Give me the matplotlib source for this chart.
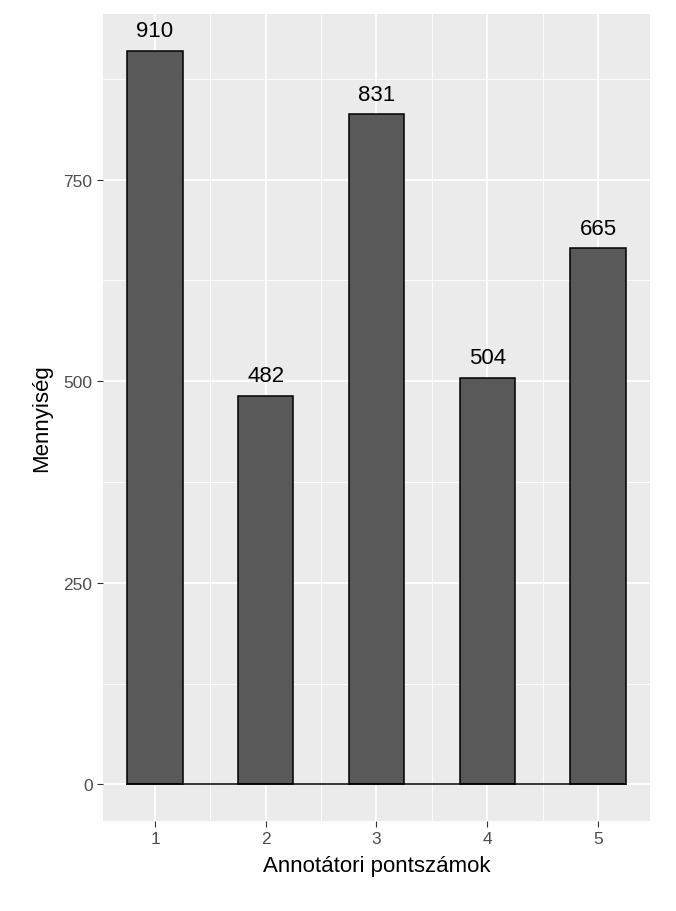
import matplotlib
matplotlib.use("Agg")
import matplotlib.pyplot as plt
import numpy as np

categories = ["1", "2", "3", "4", "5"]
values = [910, 482, 831, 504, 665]
yticks = [0, 250, 500, 750]

plt.rcParams['font.family'] = ['Liberation Sans', 'DejaVu Sans']
fig = plt.figure(figsize=(6.76, 9.12), dpi=100)
ax = fig.add_axes([103/676, 90/912, 547/676, 807/912])
ax.set_facecolor('#EBEBEB')
x = np.arange(1, len(categories) + 1)
ax.bar(x, values, width=0.5, color='#595959', edgecolor='black', linewidth=1.1, zorder=3)
ax.plot([x[0] - 0.25, x[-1] + 0.25], [0, 0], color='black', linewidth=1.1, zorder=4)
for xi, v in zip(x, values):
    ax.text(xi, v + 12, str(v), ha='center', va='bottom', fontsize=16, color='black', zorder=5)
ax.set_xlim(0.53, 5.47)
ax.set_ylim(-45.5, 955.5)
ax.set_xticks(x)
ax.set_xticklabels(categories)
ax.set_yticks(yticks)
ax.set_xticks(x[:-1] + 0.5, minor=True)
ax.set_yticks([125, 375, 625, 875], minor=True)
ax.grid(which='major', color='white', linewidth=1.3, zorder=0)
ax.grid(which='minor', color='white', linewidth=0.6, zorder=0)
ax.set_axisbelow(True)
for s in ax.spines.values():
    s.set_visible(False)
ax.tick_params(which='major', length=4, color='#333333', labelsize=12.5, labelcolor='#4D4D4D')
ax.tick_params(which='minor', length=0)
ax.set_xlabel('Annotátori pontszámok', fontsize=16, labelpad=6)
ax.set_ylabel('Mennyiség', fontsize=16, labelpad=8)
fig.savefig('out.png', dpi=100)
